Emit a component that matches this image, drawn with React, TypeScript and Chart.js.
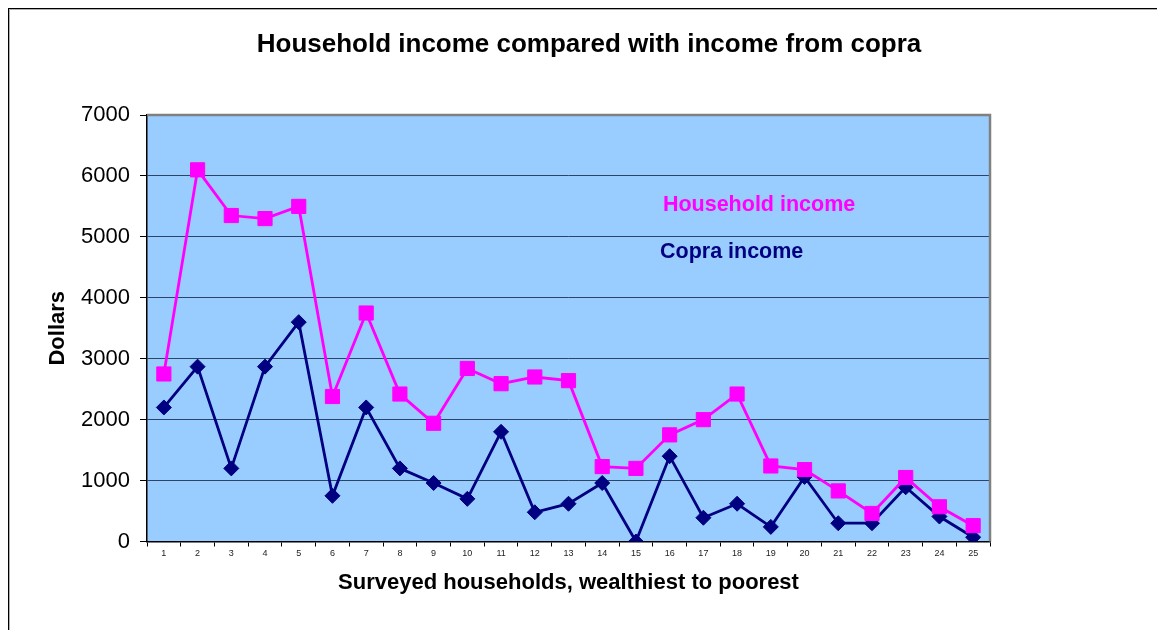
import React, { useEffect, useRef } from "react";
import { Chart, registerables } from "chart.js";

Chart.register(...registerables);

const FONT = "Arial, 'Liberation Sans', sans-serif";

const households = ["1","2","3","4","5","6","7","8","9","10","11","12","13","14","15","16","17","18","19","20","21","22","23","24","25"];
const householdIncome = [2750, 6100, 5350, 5300, 5500, 2380, 3750, 2420, 1940, 2840, 2590, 2700, 2640, 1230, 1200, 1750, 2000, 2420, 1240, 1180, 830, 460, 1050, 570, 260];
const copraIncome = [2200, 2870, 1200, 2870, 3600, 750, 2200, 1200, 960, 700, 1800, 480, 620, 960, 0, 1400, 390, 620, 240, 1060, 300, 300, 890, 410, 70];
const yMin = 0;
const yMax = 7000;
const yStep = 1000;
const seriesNames = ["Household income", "Copra income"];
const titleText = "Household income compared with income from copra";
const xTitle = "Surveyed households, wealthiest to poorest";
const yTitle = "Dollars";

const MAGENTA = "#FF00FF";
const NAVY = "#000080";

const plotPlugin = {
  id: "plotDecor",
  beforeDraw(chart: any) {
    const { ctx, chartArea } = chart;
    ctx.save();
    ctx.fillStyle = "#99CCFF";
    ctx.fillRect(chartArea.left, chartArea.top, chartArea.right - chartArea.left, chartArea.bottom - chartArea.top);
    ctx.restore();
  },
  beforeDatasetsDraw(chart: any) {
    const { ctx, chartArea } = chart;
    ctx.save();
    ctx.strokeStyle = "#808080";
    ctx.lineWidth = 2.5;
    ctx.beginPath();
    ctx.moveTo(chartArea.left, chartArea.top);
    ctx.lineTo(chartArea.right, chartArea.top);
    ctx.lineTo(chartArea.right, chartArea.bottom);
    ctx.stroke();
    ctx.restore();
  },
  afterDraw(chart: any) {
    const { ctx, chartArea } = chart;
    const w = chartArea.right - chartArea.left;
    const h = chartArea.bottom - chartArea.top;
    ctx.save();
    ctx.font = `bold 21.5px ${FONT}`;
    ctx.textBaseline = "middle";
    ctx.textAlign = "left";
    ctx.fillStyle = MAGENTA;
    ctx.fillText(seriesNames[0], chartArea.left + w * 0.612, chartArea.top + h * 0.211);
    ctx.fillStyle = NAVY;
    ctx.fillText(seriesNames[1], chartArea.left + w * 0.6085, chartArea.top + h * 0.321);
    ctx.restore();
  },
};

export default function App() {
  const canvasRef = useRef<HTMLCanvasElement | null>(null);

  useEffect(() => {
    document.documentElement.style.overflow = "hidden";
    document.body.style.overflow = "hidden";
    const canvas = canvasRef.current;
    if (!canvas) return;
    const chart = new Chart(canvas, {
      type: "line",
      data: {
        labels: households,
        datasets: [
          {
            label: seriesNames[0],
            data: householdIncome,
            borderColor: MAGENTA,
            backgroundColor: MAGENTA,
            borderWidth: 2.8,
            pointStyle: "rect",
            pointRadius: 10,
            pointBorderWidth: 1,
            pointBorderColor: MAGENTA,
            pointBackgroundColor: MAGENTA,
            tension: 0,
            fill: false,
          },
          {
            label: seriesNames[1],
            data: copraIncome,
            borderColor: NAVY,
            backgroundColor: NAVY,
            borderWidth: 2.8,
            pointStyle: "rectRot",
            pointRadius: 7.5,
            pointBorderWidth: 1,
            pointBorderColor: NAVY,
            pointBackgroundColor: NAVY,
            tension: 0,
            fill: false,
          },
        ],
      },
      options: {
        animation: false,
        responsive: true,
        maintainAspectRatio: false,
        layout: { padding: { top: 0, left: 0, right: 0, bottom: 32.5 } },
        plugins: {
          legend: { display: false },
          tooltip: { enabled: false },
          title: {
            display: true,
            text: titleText,
            color: "#000",
            font: { family: FONT, size: 26, weight: "bold", lineHeight: 1.2 },
            padding: { top: 20.4, bottom: 54.4 },
          },
        },
        scales: {
          x: {
            type: "category",
            offset: true,
            grid: {
              display: true,
              offset: true,
              drawOnChartArea: false,
              drawTicks: true,
              tickLength: 5,
              tickColor: "#000",
              tickWidth: 1,
            },
            border: { display: true, color: "#000", width: 1.5 },
            ticks: {
              color: "#222",
              font: { family: FONT, size: 9 },
              padding: 1.5,
              maxRotation: 0,
              autoSkip: false,
            },
            title: {
              display: true,
              text: xTitle,
              color: "#000",
              font: { family: FONT, size: 22, weight: "bold", lineHeight: 1.2 },
              padding: { top: 0, bottom: 5.5 },
            },
            afterFit(scale: any) {
              scale.height = 60;
            },
          },
          y: {
            type: "linear",
            position: "left",
            min: yMin,
            max: yMax,
            ticks: {
              stepSize: yStep,
              color: "#000",
              font: { family: FONT, size: 22 },
              padding: 10,
              callback: (v: any) => String(v),
            },
            grid: {
              color: "#2c4466",
              lineWidth: 1,
              tickLength: 7,
              tickColor: "#000",
              tickWidth: 1,
            },
            border: { display: true, color: "#000", width: 1.5 },
            title: {
              display: true,
              text: yTitle,
              color: "#000",
              font: { family: FONT, size: 22, weight: "bold", lineHeight: 1.2 },
              padding: { top: 36, bottom: 0 },
            },
            afterFit(scale: any) {
              scale.width = 138;
            },
          },
          spacer: {
            type: "linear",
            position: "right",
            display: true,
            grid: { display: false, drawTicks: false },
            border: { display: false },
            ticks: { display: false },
            afterFit(scale: any) {
              scale.width = 179;
            },
          },
        },
      },
      plugins: [plotPlugin],
    } as any);
    return () => chart.destroy();
  }, []);

  return (
    <div
      style={{
        position: "relative",
        width: 1160,
        height: 625,
        borderTop: "1px solid #000",
        borderLeft: "1px solid #000",
        boxShadow: "inset 1px 1px 0 #b0b0b0",
        background: "#fff",
      }}
    >
      <canvas ref={canvasRef} />
    </div>
  );
}
